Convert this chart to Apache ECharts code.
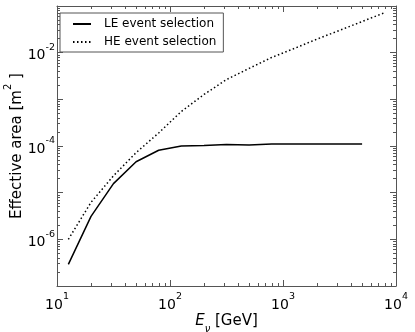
<!DOCTYPE html>
<html><head><meta charset="utf-8">
<script src="https://cdn.jsdelivr.net/npm/echarts@6/dist/echarts.min.js"></script>
<style>html,body{margin:0;padding:0;background:#fff}#c{width:415px;height:332px}</style>
</head><body><div id="c"></div>
<script>
// Energies (GeV), log-spaced
const energies = [12.6, 20, 31.6, 50.1, 79.4, 126, 200, 316, 501, 794, 1259, 1995, 3162, 5012, 7943];
// Effective area (m^2)
const leArea = [2.9e-7, 3.1e-6, 1.56e-5, 4.6e-5, 8.1e-5, 1.0e-4, 1.02e-4, 1.08e-4, 1.05e-4, 1.1e-4, 1.1e-4, 1.1e-4, 1.1e-4, 1.1e-4];
const heArea = [1.0e-6, 6.2e-6, 2.3e-5, 7.2e-5, 1.9e-4, 5.5e-4, 1.27e-3, 2.65e-3, 4.6e-3, 7.9e-3, 1.23e-2, 1.95e-2, 3.0e-2, 4.65e-2, 7.2e-2];
const seriesNames = ['LE event selection', 'HE event selection'];
const xRange = [10, 10000];
const yRange = [1e-7, 1e-1];

const FONT = 'DejaVu Sans';
const FRAME = '#555';
function expOf(v){ return Math.round(Math.log10(v)); }
const richLab = {
  b:{fontSize:14, fontFamily:FONT, color:'#000', verticalAlign:'bottom', lineHeight:20},
  s:{fontSize:9.5, fontFamily:FONT, color:'#000', verticalAlign:'top', lineHeight:20}
};
function xLab(v){ return '{b|10}{s|' + expOf(v) + '}'; }
function yLab(v){ const e = expOf(v); return (e % 2 === 0) ? '{b|10}{s|' + e + '}' : ''; }

function mkAxis(pos, range, labels, fmt, extra){
  return Object.assign({
    type:'log', logBase:10, position:pos, min:range[0], max:range[1],
    axisLine:{show:true, lineStyle:{color:FRAME, width:1}},
    axisTick:{show:true, inside:true, length:6, lineStyle:{color:FRAME, width:1}},
    minorTick:{show:true, splitNumber:9, length:3, lineStyle:{color:FRAME, width:1}},
    splitLine:{show:false}, minorSplitLine:{show:false},
    axisLabel:{show:labels, formatter:fmt, rich:richLab, margin:pos==='left'?2:6, hideOverlap:false, showMinLabel:true, showMaxLabel:true}
  }, extra || {});
}

const chart = echarts.init(document.getElementById('c'), null, {renderer:'canvas'});
chart.setOption({
  animation:false,
  backgroundColor:'#fff',
  grid:{left:57, right:19, top:6, bottom:46, containLabel:false, outerBoundsMode:'none'},
  xAxis:[
    mkAxis('bottom', xRange, true, xLab, {
      name:'{i|E}{sub|ν}{n| [GeV]}', nameLocation:'middle', nameGap:28, nameMoveOverlap:false,
      nameTextStyle:{rich:{
        i:{fontSize:15, fontFamily:FONT, fontStyle:'italic', color:'#000', verticalAlign:'top', lineHeight:20},
        sub:{fontSize:10, fontFamily:FONT, fontStyle:'italic', color:'#000', verticalAlign:'bottom', lineHeight:20},
        n:{fontSize:15, fontFamily:FONT, color:'#000', verticalAlign:'top', lineHeight:20}
      }}
    }),
    mkAxis('top', xRange, false, xLab)
  ],
  yAxis:[
    mkAxis('left', yRange, true, yLab, {
      name:'{n|Effective area [m}{sup|2}{n| ]}', nameLocation:'middle', nameGap:32, nameRotate:90, nameMoveOverlap:false,
      nameTextStyle:{rich:{
        n:{fontSize:15, fontFamily:FONT, color:'#000', verticalAlign:'bottom', lineHeight:22},
        sup:{fontSize:10, fontFamily:FONT, color:'#000', verticalAlign:'top', lineHeight:22}
      }}
    }),
    mkAxis('right', yRange, false, yLab)
  ],
  legend:{
    left:60, top:13, orient:'vertical', backgroundColor:'#fff', borderColor:FRAME, borderWidth:1, borderRadius:0,
    padding:[5,7,4,12], itemWidth:18, itemHeight:10, itemGap:6,
    itemStyle:{opacity:0},
    textStyle:{fontFamily:FONT, fontSize:12, color:'#000', padding:[0,0,0,8]},
    data:seriesNames
  },
  series:[
    {name:seriesNames[0], type:'line', symbol:'none', xAxisIndex:0, yAxisIndex:0,
     data:leArea.map((a,i)=>[energies[i], a]),
     lineStyle:{color:'#000', width:1.5}, itemStyle:{color:'#000'}},
    {name:seriesNames[1], type:'line', symbol:'none', xAxisIndex:0, yAxisIndex:0,
     data:heArea.map((a,i)=>[energies[i], a]),
     lineStyle:{color:'#000', width:1.5, type:[1.5,2.5]}, itemStyle:{color:'#000'}}
  ]
});
</script>
</body></html>
